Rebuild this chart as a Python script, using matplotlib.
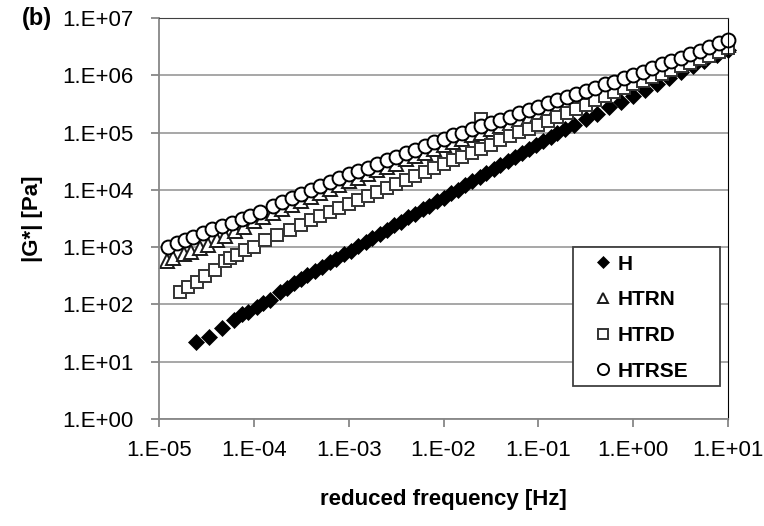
import matplotlib
matplotlib.use("Agg")
import matplotlib.pyplot as plt
import numpy as np
from matplotlib.patches import Rectangle
from matplotlib.ticker import FixedLocator, FuncFormatter, NullLocator

plt.rcParams['font.family'] = ['Liberation Sans', 'DejaVu Sans']

# values, as log10 of frequency [Hz] and |G*| [Pa]
h_logf = [-4.61, -4.47, -4.34, -4.21, -4.13, -4.06, -3.97, -3.90, -3.83, -3.72,
          -3.65, -3.58, -3.50, -3.44, -3.36, -3.28, -3.20, -3.13, -3.05, -2.98,
          -2.90, -2.82, -2.75, -2.67, -2.60, -2.52, -2.45, -2.37, -2.30, -2.22,
          -2.15, -2.07, -2.00, -1.92, -1.85, -1.77, -1.70, -1.62, -1.55, -1.47,
          -1.40, -1.32, -1.25, -1.17, -1.10, -1.02, -0.95, -0.87, -0.80, -0.72,
          -0.62, -0.50, -0.38, -0.25, -0.13, 0.00, 0.13, 0.25, 0.38, 0.50,
          0.63, 0.75, 0.88, 1.00]
h_logg = [1.34, 1.43, 1.58, 1.73, 1.83, 1.87, 1.96, 2.02, 2.08, 2.22,
          2.28, 2.37, 2.44, 2.51, 2.59, 2.66, 2.74, 2.80, 2.88, 2.94,
          3.02, 3.09, 3.16, 3.23, 3.30, 3.38, 3.44, 3.52, 3.58, 3.66,
          3.72, 3.80, 3.86, 3.94, 4.00, 4.08, 4.15, 4.22, 4.29, 4.36,
          4.43, 4.50, 4.57, 4.64, 4.71, 4.79, 4.85, 4.93, 4.99, 5.06,
          5.14, 5.24, 5.33, 5.44, 5.54, 5.64, 5.75, 5.85, 5.95, 6.05,
          6.16, 6.25, 6.36, 6.45]

htrn_logf = [-4.92, -4.85, -4.74, -4.66, -4.57, -4.48, -4.39, -4.30, -4.20, -4.10,
             -4.00, -3.9, -3.8, -3.7, -3.6, -3.5, -3.4, -3.3, -3.2, -3.1,
             -3.0, -2.9, -2.8, -2.7, -2.6, -2.5, -2.4, -2.3, -2.2, -2.1,
             -2.0, -1.9, -1.8, -1.7, -1.6, -1.5, -1.4, -1.3, -1.2, -1.1,
             -1.0, -0.9, -0.8, -0.7, -0.6, -0.5, -0.4, -0.3, -0.2, -0.1,
             0.0, 0.1, 0.2, 0.3, 0.4, 0.5, 0.6, 0.7, 0.8, 0.9, 1.0]
htrn_logg = [2.75, 2.81, 2.88, 2.92, 2.98, 3.04, 3.12, 3.19, 3.28, 3.36,
             3.45, 3.52, 3.59, 3.66, 3.74, 3.81, 3.88, 3.95, 4.02, 4.08,
             4.15, 4.21, 4.27, 4.34, 4.40, 4.46, 4.53, 4.59, 4.65, 4.72,
             4.78, 4.84, 4.89, 4.95, 5.00, 5.06, 5.11, 5.17, 5.22, 5.28,
             5.33, 5.39, 5.45, 5.51, 5.57, 5.63, 5.68, 5.74, 5.80, 5.86,
             5.92, 5.98, 6.04, 6.10, 6.16, 6.22, 6.28, 6.34, 6.40, 6.46, 6.52]

htrd_logf = [-4.78, -4.69, -4.60, -4.51, -4.41, -4.30, -4.25, -4.18, -4.09, -4.00,
             -3.88, -3.76, -3.62, -3.5, -3.4, -3.3, -3.2, -3.1, -3.0, -2.9,
             -2.8, -2.7, -2.6, -2.5, -2.4, -2.3, -2.2, -2.1, -2.0, -1.9,
             -1.8, -1.7, -1.6, -1.60, -1.5, -1.4, -1.3, -1.2, -1.1, -1.0,
             -0.9, -0.8, -0.7, -0.6, -0.5, -0.4, -0.3, -0.2, -0.1, 0.0,
             0.1, 0.2, 0.3, 0.4, 0.5, 0.6, 0.7, 0.8, 0.9, 1.0]
htrd_logg = [2.21, 2.31, 2.40, 2.49, 2.60, 2.75, 2.81, 2.86, 2.95, 3.01,
             3.13, 3.21, 3.30, 3.39, 3.47, 3.54, 3.62, 3.69, 3.76, 3.83,
             3.90, 3.97, 4.04, 4.11, 4.18, 4.24, 4.31, 4.38, 4.45, 4.52,
             4.58, 4.65, 4.72, 5.23, 4.79, 4.87, 4.94, 5.01, 5.07, 5.14,
             5.21, 5.28, 5.35, 5.42, 5.49, 5.56, 5.63, 5.70, 5.77, 5.84,
             5.90, 5.97, 6.03, 6.10, 6.16, 6.22, 6.28, 6.34, 6.41, 6.47]

htrse_logf = [-4.90, -4.81, -4.73, -4.64, -4.54, -4.44, -4.34, -4.23, -4.13, -4.04,
              -3.93, -3.8, -3.7, -3.6, -3.5, -3.4, -3.3, -3.2, -3.1, -3.0,
              -2.9, -2.8, -2.7, -2.6, -2.5, -2.4, -2.3, -2.2, -2.1, -2.0,
              -1.9, -1.8, -1.7, -1.6, -1.5, -1.4, -1.3, -1.2, -1.1, -1.0,
              -0.9, -0.8, -0.7, -0.6, -0.5, -0.4, -0.3, -0.2, -0.1, 0.0,
              0.1, 0.2, 0.3, 0.4, 0.5, 0.6, 0.7, 0.8, 0.9, 1.0]
htrse_logg = [3.00, 3.07, 3.13, 3.18, 3.25, 3.31, 3.37, 3.43, 3.49, 3.54,
              3.62, 3.71, 3.78, 3.86, 3.93, 4.00, 4.07, 4.14, 4.20, 4.27,
              4.33, 4.39, 4.45, 4.52, 4.58, 4.64, 4.70, 4.77, 4.83, 4.89,
              4.95, 5.00, 5.06, 5.11, 5.17, 5.22, 5.28, 5.34, 5.39, 5.45,
              5.51, 5.56, 5.62, 5.67, 5.73, 5.78, 5.84, 5.89, 5.95, 6.00,
              6.06, 6.12, 6.19, 6.25, 6.31, 6.37, 6.43, 6.50, 6.56, 6.62]

x_decades = [-5, -4, -3, -2, -1, 0, 1]
y_decades = [0, 1, 2, 3, 4, 5, 6, 7]


def excel_sci(v, pos):
    e = int(round(np.log10(v)))
    return "1.E%+03d" % e


fig = plt.figure(figsize=(7.64, 5.26), dpi=100)
ax = fig.add_axes([159 / 764, 107 / 526, 569 / 764, 401 / 526])
ax.set_xscale('log')
ax.set_yscale('log')
ax.set_xlim(1e-5, 1e1)
ax.set_ylim(1e0, 1e7)

series = [
    ('H', h_logf, h_logg, dict(marker='D', ms=8, mfc='black', mec='black', mew=0.5)),
    ('HTRN', htrn_logf, htrn_logg, dict(marker='^', ms=9.5, mfc='white', mec='#1a1a1a', mew=1.4)),
    ('HTRD', htrd_logf, htrd_logg, dict(marker='s', ms=8.5, mfc='white', mec='#333333', mew=1.4)),
    ('HTRSE', htrse_logf, htrse_logg, dict(marker='o', ms=10, mfc='white', mec='black', mew=1.4)),
]
for name, lf, lg, style in series:
    ax.plot(10.0 ** np.array(lf), 10.0 ** np.array(lg), ls='none',
            label=name, clip_on=False, **style)

ax.xaxis.set_major_locator(FixedLocator([10.0 ** d for d in x_decades]))
ax.yaxis.set_major_locator(FixedLocator([10.0 ** d for d in y_decades]))
ax.xaxis.set_minor_locator(NullLocator())
ax.yaxis.set_minor_locator(NullLocator())
ax.xaxis.set_major_formatter(FuncFormatter(excel_sci))
ax.yaxis.set_major_formatter(FuncFormatter(excel_sci))

ax.grid(axis='y', color='#a0a0a0', lw=1.3)
ax.set_axisbelow(True)
for side in ['left', 'bottom']:
    ax.spines[side].set_color('#878787')
    ax.spines[side].set_linewidth(1.3)
ax.spines['top'].set_color('#404040')
ax.spines['right'].set_color('black')
ax.tick_params(axis='both', colors='#878787', length=6, width=1.3, direction='out',
               labelsize=16, labelcolor='black')
ax.tick_params(axis='x', pad=9)
ax.tick_params(axis='y', pad=12)

ax.set_xlabel('reduced frequency [Hz]', fontsize=16, fontweight='bold', labelpad=20)
ax.set_ylabel('|G*| [Pa]', fontsize=16, fontweight='bold', labelpad=14)
fig.text(22 / 764, 1 - 18 / 526, '(b)', fontsize=17, fontweight='bold', va='center', ha='left')

# legend box drawn as its own frame, entries placed inside it
ax.add_patch(Rectangle((0.7276, 0.0823), 0.2584, 0.3466, transform=ax.transAxes,
                       facecolor='white', edgecolor='#404040', lw=1.3, zorder=5))
leg = ax.legend(loc='upper left', bbox_to_anchor=(0.762, 0.41), borderaxespad=0,
                prop={'weight': 'bold', 'size': 15}, frameon=False,
                handlelength=1.0, handletextpad=0.2, borderpad=0,
                labelspacing=0.8, markerscale=0.8)
leg.set_zorder(6)

fig.savefig('out.png', dpi=100)
